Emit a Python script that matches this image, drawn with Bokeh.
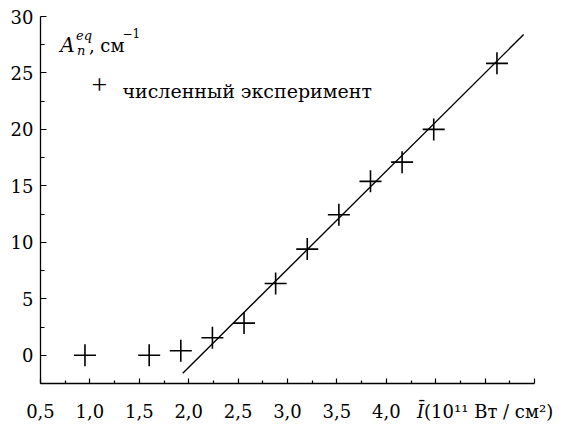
from bokeh.plotting import figure
from bokeh.models import FixedTicker, Label, Range1d
from bokeh.embed import file_html
from bokeh.resources import INLINE

# ---- data ----
intensity = [0.95, 1.60, 1.92, 2.24, 2.56, 2.88, 3.20, 3.52, 3.84, 4.16, 4.48, 5.12]
absorption = [0.0, 0.0, 0.4, 1.55, 2.85, 6.35, 9.4, 12.45, 15.4, 17.1, 20.0, 25.85]
fit_x = [1.94, 5.39]
fit_y = [-1.6, 28.4]

x_major = [0.5, 1.0, 1.5, 2.0, 2.5, 3.0, 3.5, 4.0, 4.5, 5.0, 5.5]
x_minor = [0.75, 1.25, 1.75, 2.25, 2.75, 3.25, 3.75, 4.25, 4.75, 5.25]
x_title = "\U0001D43C\u0304(10¹¹ Вт / см²)"
x_labels = ["0,5", "1,0", "1,5", "2,0", "2,5", "3,0", "3,5", "4,0", "", x_title, ""]
y_major = [0, 5, 10, 15, 20, 25, 30]
y_minor = [-2.5, 2.5, 7.5, 12.5, 17.5, 22.5, 27.5]

FONT = "DejaVu Serif"

p = figure(width=560, height=424, x_range=Range1d(0.5, 5.5), y_range=Range1d(-2.5, 30),
           output_backend="svg", toolbar_location=None,
           min_border_left=40, min_border_right=26, min_border_top=16, min_border_bottom=41)
p.xgrid.visible = False
p.ygrid.visible = False
p.outline_line_color = None
p.background_fill_color = "white"
p.border_fill_color = "white"

xa = p.xaxis[0]
xa.ticker = FixedTicker(ticks=x_major, minor_ticks=x_minor)
xa.major_label_overrides = {t: l for t, l in zip(x_major, x_labels)}
xa.major_tick_in = 5
xa.major_tick_out = 0
xa.minor_tick_in = 3
xa.minor_tick_out = 0
xa.major_label_standoff = 17

ya = p.yaxis[0]
ya.ticker = FixedTicker(ticks=y_major, minor_ticks=y_minor)
ya.major_tick_in = 6
ya.major_tick_out = 0
ya.minor_tick_in = 4
ya.minor_tick_out = 0
ya.major_label_standoff = 7

for ax in (xa, ya):
    ax.axis_line_color = "black"
    ax.axis_line_width = 1.3
    ax.major_tick_line_color = "black"
    ax.minor_tick_line_color = "black"
    ax.major_tick_line_width = 1.2
    ax.minor_tick_line_width = 1.2
    ax.major_label_text_font = FONT
    ax.major_label_text_font_size = "18px"
    ax.major_label_text_color = "black"

p.line(fit_x, fit_y, line_color="black", line_width=1.4)
p.scatter(intensity, absorption, marker="cross", size=22, line_color="black", line_width=1.6)

def lab(x, y, text, size, style="normal", align="left", baseline="alphabetic", font=FONT):
    p.add_layout(Label(x=x, y=y, text=text, text_font=font, text_font_size=size,
                       text_font_style=style, text_align=align, text_baseline=baseline,
                       text_color="black"))

# y-axis title  A_n^eq, см^-1
lab(0.70, 27.46, "A", "20px", "italic")
lab(0.86, 28.3, "eq", "13px", "italic")
lab(0.87, 27.0, "n", "13px", "italic")
lab(0.99, 27.46, ", см", "18px")
lab(1.33, 28.55, "−1", "12px")

# legend
lab(1.097, 23.9, "+", "28px", align="center", baseline="middle", font="Liberation Serif")
lab(1.33, 23.4, "численный эксперимент", "19px")

open("out.html", "w").write(file_html(p, INLINE))
